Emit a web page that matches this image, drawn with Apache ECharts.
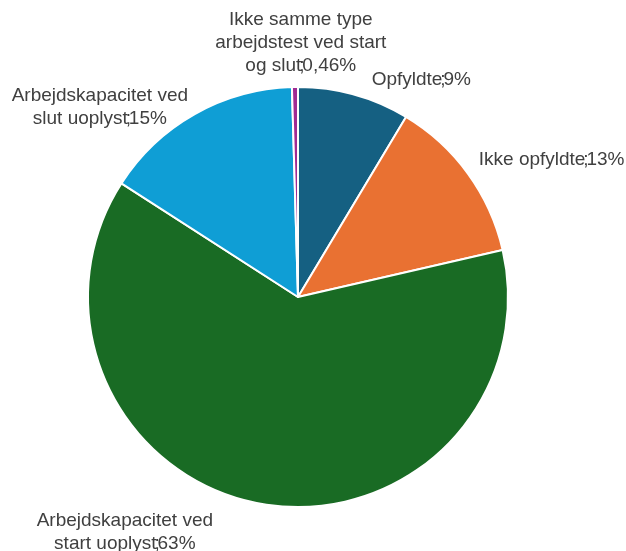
<!DOCTYPE html>
<html><head><meta charset="utf-8">
<script src="https://cdn.jsdelivr.net/npm/echarts@6/dist/echarts.min.js"></script>
<style>html,body{margin:0;padding:0;background:#fff}#c{width:626px;height:551px}</style>
</head><body><div id="c"></div>
<script>
const categories = [
  "Opfyldte",
  "Ikke opfyldte",
  "Arbejdskapacitet ved start uoplyst",
  "Arbejdskapacitet ved slut uoplyst",
  "Ikke samme type arbejdstest ved start og slut"
];
const values = [8.6, 12.8, 62.7, 15.44, 0.46];
const labelNames = [
  "Opfyldte",
  "Ikke opfyldte",
  "Arbejdskapacitet ved\nstart uoplyst",
  "Arbejdskapacitet ved\nslut uoplyst",
  "Ikke samme type\narbejdstest ved start\nog slut"
];
const labelPercents = ["9%", "13%", "63%", "15%", "0,46%"];
const colors = ["#156082", "#E97132", "#196B24", "#0F9ED5", "#A02B93"];

const labelShift = [
  [59, -3],
  [69, -7],
  [-130, 17],
  [-84, 4],
  [11, -32]
];

const baseText = {
  color: '#404040',
  fontFamily: 'Liberation Sans, Arial, sans-serif',
  fontSize: 19,
  lineHeight: 23
};

const chart = echarts.init(document.getElementById('c'), null, {renderer: 'canvas'});
chart.setOption({
  animation: false,
  series: [{
    type: 'pie',
    center: [298, 297],
    radius: [0, 210],
    startAngle: 90,
    clockwise: true,
    avoidLabelOverlap: false,
    itemStyle: {borderColor: '#fff', borderWidth: 2},
    label: Object.assign({
      show: true,
      position: 'outside',
      formatter: p => {
        const lines = labelNames[p.dataIndex].split('\n');
        const last = lines.pop();
        const pre = lines.map(l => '{t|' + l + '}').join('\n');
        return (pre ? pre + '\n' : '') + '{t|' + last + '}{s|;}{t|' + labelPercents[p.dataIndex] + '}';
      },
      align: 'center',
      rich: {
        t: Object.assign({}, baseText),
        s: Object.assign({}, baseText, {width: 1})
      }
    }, baseText),
    labelLine: {show: false, length: 12, length2: 0},
    labelLayout: function (p) {
      const s = labelShift[p.dataIndex];
      return {dx: s[0], dy: s[1], align: 'center', verticalAlign: 'middle'};
    },
    data: categories.map((c, i) => ({name: c, value: values[i], itemStyle: {color: colors[i]}}))
  }]
});
</script></body></html>
